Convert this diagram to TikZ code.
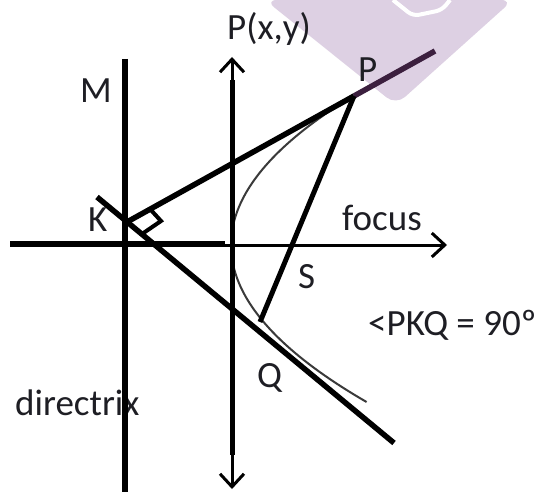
\documentclass[tikz,border=0pt]{standalone}
\usepackage{fontspec}
\setmainfont{Carlito}
\usetikzlibrary{arrows.meta}
\definecolor{txt}{HTML}{1E1E24}
\definecolor{wm}{HTML}{DDD0E3}
\definecolor{curvecol}{HTML}{3A3A3A}
\definecolor{dp}{HTML}{3B1F3E}
\begin{document}
\begin{tikzpicture}[x=1pt,y=-1pt,
  lbl/.style={text=txt, font=\fontsize{37}{44}\selectfont, inner sep=0pt, anchor=base west},
  heavy/.style={line width=5.5pt},
  medium/.style={line width=5pt},
  thinax/.style={line width=3pt},
  barb/.style={-{Straight Barb[length=13pt,width=24pt]}}]
\useasboundingbox (0,0) rectangle (544,492);
\fill[white] (0,0) rectangle (544,492);
% watermark
\fill[wm, rounded corners=12pt] (265,0) -- (396,105) -- (513,0) -- cycle;
\draw[white, line width=4pt, rounded corners=6pt] (393,0) -- (413,16) -- (442,10) -- (450,0);
% points
\coordinate (K) at (127,222);
\coordinate (P) at (354,96);
\coordinate (Pend) at (435,51);
\coordinate (Q) at (260,322);
\coordinate (T2a) at (97,197);
\coordinate (T2b) at (394,443);
\coordinate (Dtop) at (125,59);
\coordinate (Dbot) at (125,492);
\coordinate (Ytop) at (232,57);
\coordinate (Ytopb) at (232,80);
\coordinate (Ybot) at (232,489);
\coordinate (Ybotb) at (232,455);
\coordinate (Xl) at (10,243.5);
\coordinate (Xm) at (225,243.5);
\coordinate (Xs) at (198,245);
\coordinate (Xr) at (447,245);
\coordinate (RA1) at (150,209);
\coordinate (RA2) at (161,221);
\coordinate (RA3) at (142,234);
% labels
\node[lbl] (lPxy) at (227,40) {P(x,y)};
\node[lbl] (lM) at (80,103) {M};
\node[lbl] (lP) at (358,82) {P};
\node[lbl] (lK) at (88,232) {K};
\node[lbl] (lfocus) at (342,230) {focus};
\node[lbl] (lS) at (298,288) {S};
\node[lbl] (lQ) at (257,387) {Q};
\node[lbl] (lang) at (368,335) {<PKQ = 90º};
\node[lbl] (ldir) at (15,415) {directrix};
% parabola
\draw[curvecol, line width=2pt] plot[domain=96:402, samples=80, variable=\t] ({231+0.55*((\t-245)/10)^2}, \t);
% axes
\draw[heavy] (Dtop) -- (Dbot);
\draw[medium] (Ytopb) -- (Ybotb);
\draw[thinax, barb] (Ytopb) -- (Ytop);
\draw[thinax, barb] (Ybotb) -- (Ybot);
\draw[line width=6pt] (Xl) -- (Xm);
\draw[thinax, barb] (Xs) -- (Xr);
% tangents and chord
\draw[heavy] (K) -- (P);
\draw[heavy, dp] (P) -- (Pend);
\draw[heavy] (T2a) -- (T2b);
\draw[medium] (P) -- (Q);
\draw[line width=4pt] (RA1) -- (RA2) -- (RA3);
\end{tikzpicture}
\end{document}
